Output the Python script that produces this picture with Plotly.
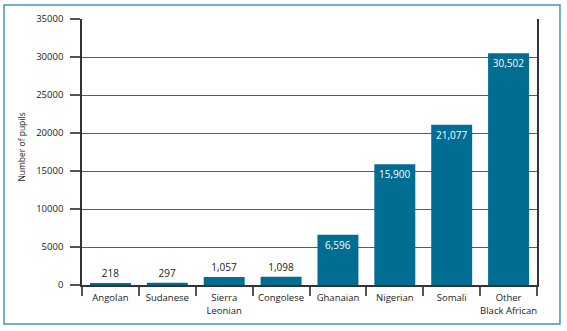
import plotly.graph_objects as go

categories = ["Angolan", "Sudanese", "Sierra<br>Leonian", "Congolese", "Ghanaian",
              "Nigerian", "Somali", "Other<br>Black African"]
pupils = [218, 297, 1057, 1098, 6596, 15900, 21077, 30502]
labels = ["218", "297", "1,057", "1,098", "6,596", "15,900", "21,077", "30,502"]
y_ticks = [0, 5000, 10000, 15000, 20000, 25000, 30000, 35000]

positions = ["outside" if v < 3000 else "inside" for v in pupils]

fig = go.Figure(go.Bar(
    x=categories, y=pupils, text=labels,
    textposition=positions,
    insidetextanchor="end",
    marker=dict(color="#006d93", line=dict(width=0)),
    textfont=dict(family="Open Sans", size=10),
    insidetextfont=dict(color="white", family="Open Sans", size=10),
    outsidetextfont=dict(color="#222222", family="Open Sans", size=10),
    cliponaxis=False,
    width=0.72,
))

fig.update_layout(
    template="none",
    width=567, height=331,
    margin=dict(l=82, r=30, t=19, b=46),
    plot_bgcolor="white", paper_bgcolor="white",
    showlegend=False,
    font=dict(family="Open Sans", size=9, color="#222222"),
    shapes=[dict(type="rect", xref="paper", yref="paper",
                 x0=-0.1714, x1=1.0505, y0=-0.1466, y1=1.0526,
                 line=dict(color="#4a93b3", width=1.5), layer="above")],
    annotations=[dict(text="Number of pupils", xref="paper", yref="paper",
                      x=-0.132, xanchor="center", y=0.52, textangle=-90, showarrow=False,
                      font=dict(size=8.5, color="#222222"))],
)
fig.update_xaxes(
    automargin=False, tickangle=0, showgrid=False,
    showline=True, linecolor="#333333", linewidth=1.5,
    ticks="outside", tickson="boundaries", ticklen=9, tickcolor="#555555", tickwidth=1.5,
    tickfont=dict(size=9.5, color="#222222"), ticklabelstandoff=3,
)
fig.update_yaxes(
    automargin=False,
    range=[0, 35000], tickvals=y_ticks, tickformat="d",
    showgrid=True, gridcolor="#5a5a5a", gridwidth=1.2,
    showline=True, linecolor="#333333", linewidth=1.5, mirror=True,
    ticks="outside", ticklen=10, tickcolor="#555555", tickwidth=1.5,
    tickfont=dict(size=9.5, color="#222222"), ticklabelstandoff=5,
    zeroline=False,
)
fig.write_html("out.html")
